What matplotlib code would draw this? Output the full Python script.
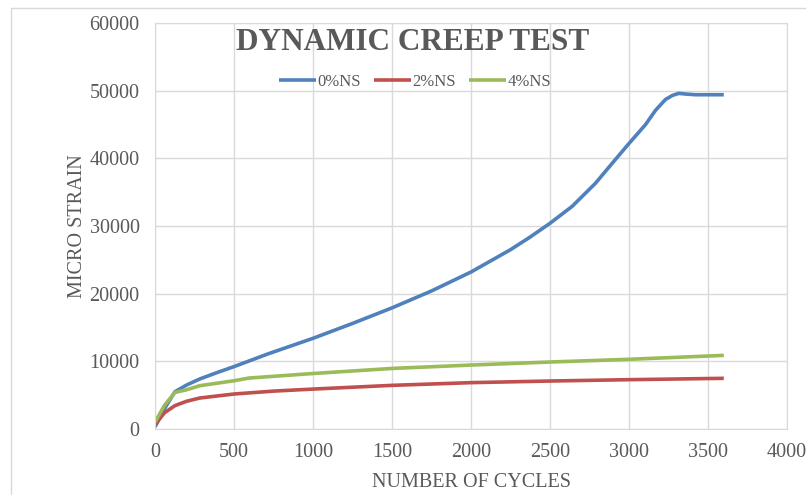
import matplotlib
matplotlib.use("Agg")
import matplotlib.pyplot as plt
from matplotlib.patches import Rectangle

# datos
cyc_0 = [0, 60, 126, 200, 284, 400, 500, 715, 1000, 1250, 1500, 1750, 2000, 2250, 2370, 2500,
         2640, 2787, 2913, 3000, 3105, 3168, 3231, 3275, 3315, 3360, 3420, 3500, 3600]
ns_0 = [300, 3000, 5500, 6500, 7400, 8400, 9220, 11100, 13400, 15600, 17900, 20400, 23200, 26500,
        28300, 30400, 32900, 36300, 39800, 42200, 45000, 47100, 48700, 49300, 49600, 49500, 49400,
        49400, 49400]

cyc_2 = [0, 60, 126, 200, 284, 500, 750, 1000, 1500, 2000, 2500, 3000, 3600]
ns_2 = [650, 2400, 3450, 4100, 4580, 5170, 5600, 5900, 6450, 6850, 7090, 7290, 7490]

cyc_4 = [0, 60, 126, 200, 284, 500, 595, 1000, 1500, 2000, 2500, 3000, 3600]
ns_4 = [1000, 3500, 5400, 5800, 6400, 7130, 7530, 8200, 8950, 9450, 9900, 10300, 10880]

xticks = [0, 500, 1000, 1500, 2000, 2500, 3000, 3500, 4000]
yticks = [0, 10000, 20000, 30000, 40000, 50000, 60000]

gris = '#595959'
plt.rcParams['font.family'] = ['Liberation Serif', 'DejaVu Serif']

fig = plt.figure(figsize=(8.06, 4.95), dpi=100)
ax = fig.add_axes([155/806, 66/495, 632/806, 406/495])

# borde del area de grafica
fig.patches.append(Rectangle((11/806, -0.1), 1.2, (495-8)/495 + 0.1, transform=fig.transFigure,
                             fill=False, edgecolor='#D9D9D9', linewidth=1))

ax.plot(cyc_0, ns_0, color='#4F81BD', lw=2.6, label='0%NS', solid_capstyle='butt')
ax.plot(cyc_2, ns_2, color='#C0504D', lw=2.6, label='2%NS', solid_capstyle='butt')
ax.plot(cyc_4, ns_4, color='#9BBB59', lw=2.6, label='4%NS', solid_capstyle='butt')

ax.set_xlim(0, 4000)
ax.set_ylim(0, 60000)
ax.set_xticks(xticks)
ax.set_yticks(yticks)
ax.grid(True, color='#D9D9D9', lw=1)
ax.set_axisbelow(True)
for s in ax.spines.values():
    s.set_color('#D9D9D9')
ax.tick_params(length=0, labelsize=14.5, labelcolor=gris)
ax.tick_params(axis='y', pad=11)
ax.tick_params(axis='x', pad=10)

ax.set_xlabel('NUMBER OF CYCLES', fontsize=14.5, color=gris, labelpad=8)
ax.set_ylabel('MICRO STRAIN', fontsize=14.5, color=gris, labelpad=2)

fig.text(413/806, 1 - 43/495, 'DYNAMIC CREEP TEST', fontsize=22.5, fontweight='bold',
         color=gris, ha='center', va='center')

leg = ax.legend(loc='center', bbox_to_anchor=(415/806, 1 - 82/495), bbox_transform=fig.transFigure,
                ncol=3, frameon=False, fontsize=12, handlelength=2.2, handletextpad=0.1,
                columnspacing=0.8, labelcolor=gris)

fig.savefig('out.png', dpi=100)
